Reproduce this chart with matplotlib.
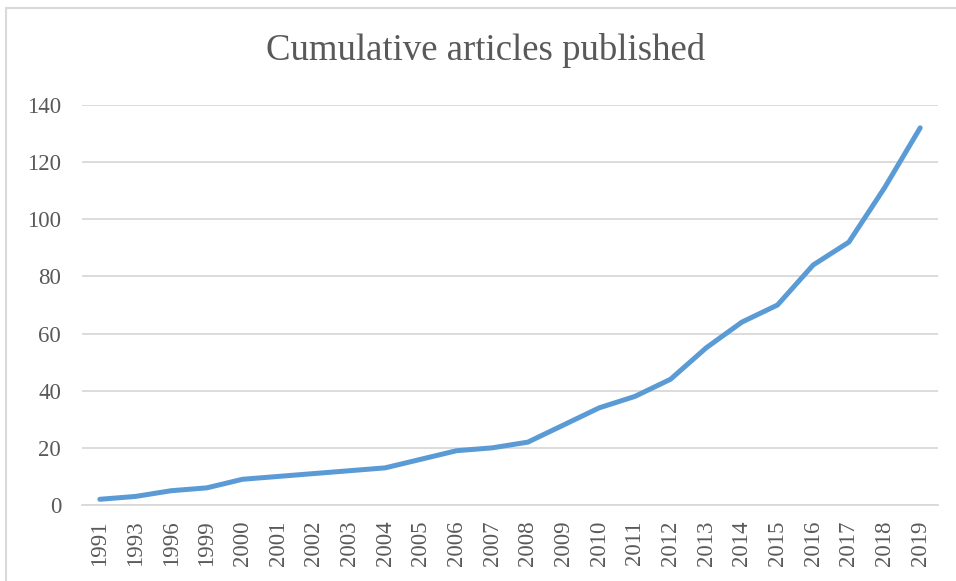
import matplotlib
matplotlib.use('Agg')
import matplotlib.pyplot as plt
from matplotlib.patches import Rectangle

# Cumulative article counts per publication year
years = ['1991', '1993', '1996', '1999', '2000', '2001', '2002', '2003',
         '2004', '2005', '2006', '2007', '2008', '2009', '2010', '2011',
         '2012', '2013', '2014', '2015', '2016', '2017', '2018', '2019']
cumulative = [2, 3, 5, 6, 9, 10, 11, 12, 13, 16, 19, 20, 22, 28, 34, 38,
              44, 55, 64, 70, 84, 92, 111, 132]
y_ticks = [0, 20, 40, 60, 80, 100, 120, 140]

plt.rcParams['font.family'] = ['Liberation Serif', 'DejaVu Serif']
text_color = '#595959'
grid_color = '#D9D9D9'

W, H = 956, 581
fig = plt.figure(figsize=(W / 100, H / 100), dpi=100)
ax = fig.add_axes([82 / W, 1 - 505 / H, (938 - 82) / W, 400 / H])

x = list(range(len(years)))
ax.plot(x, cumulative, color='#5B9BD5', linewidth=3.6, solid_capstyle='round',
        solid_joinstyle='round', zorder=3)

ax.set_xlim(-0.5, len(years) - 0.5)
ax.set_ylim(0, 140)
ax.set_yticks(y_ticks)
ax.set_xticks(x)
ax.set_xticklabels(years, rotation=90)

ax.grid(axis='y', color=grid_color, linewidth=1.3)
ax.set_axisbelow(True)
for side in ['top', 'right', 'left']:
    ax.spines[side].set_visible(False)
ax.spines['bottom'].set_color(grid_color)
ax.spines['bottom'].set_linewidth(1.3)
ax.tick_params(axis='both', length=0, labelsize=16.5, labelcolor=text_color)
ax.tick_params(axis='y', pad=15)
ax.tick_params(axis='x', pad=11)

fig.text(486 / W, 1 - 51 / H, 'Cumulative articles published', ha='center',
         va='center', fontsize=26.5, color=text_color)

# light chart-area frame
fig.patches.append(Rectangle((6 / W, -0.1), 1.2, 1 - 8 / H + 0.1,
                             transform=fig.transFigure, fill=False,
                             edgecolor=grid_color, linewidth=1.5))

fig.savefig('out.png', dpi=100)
